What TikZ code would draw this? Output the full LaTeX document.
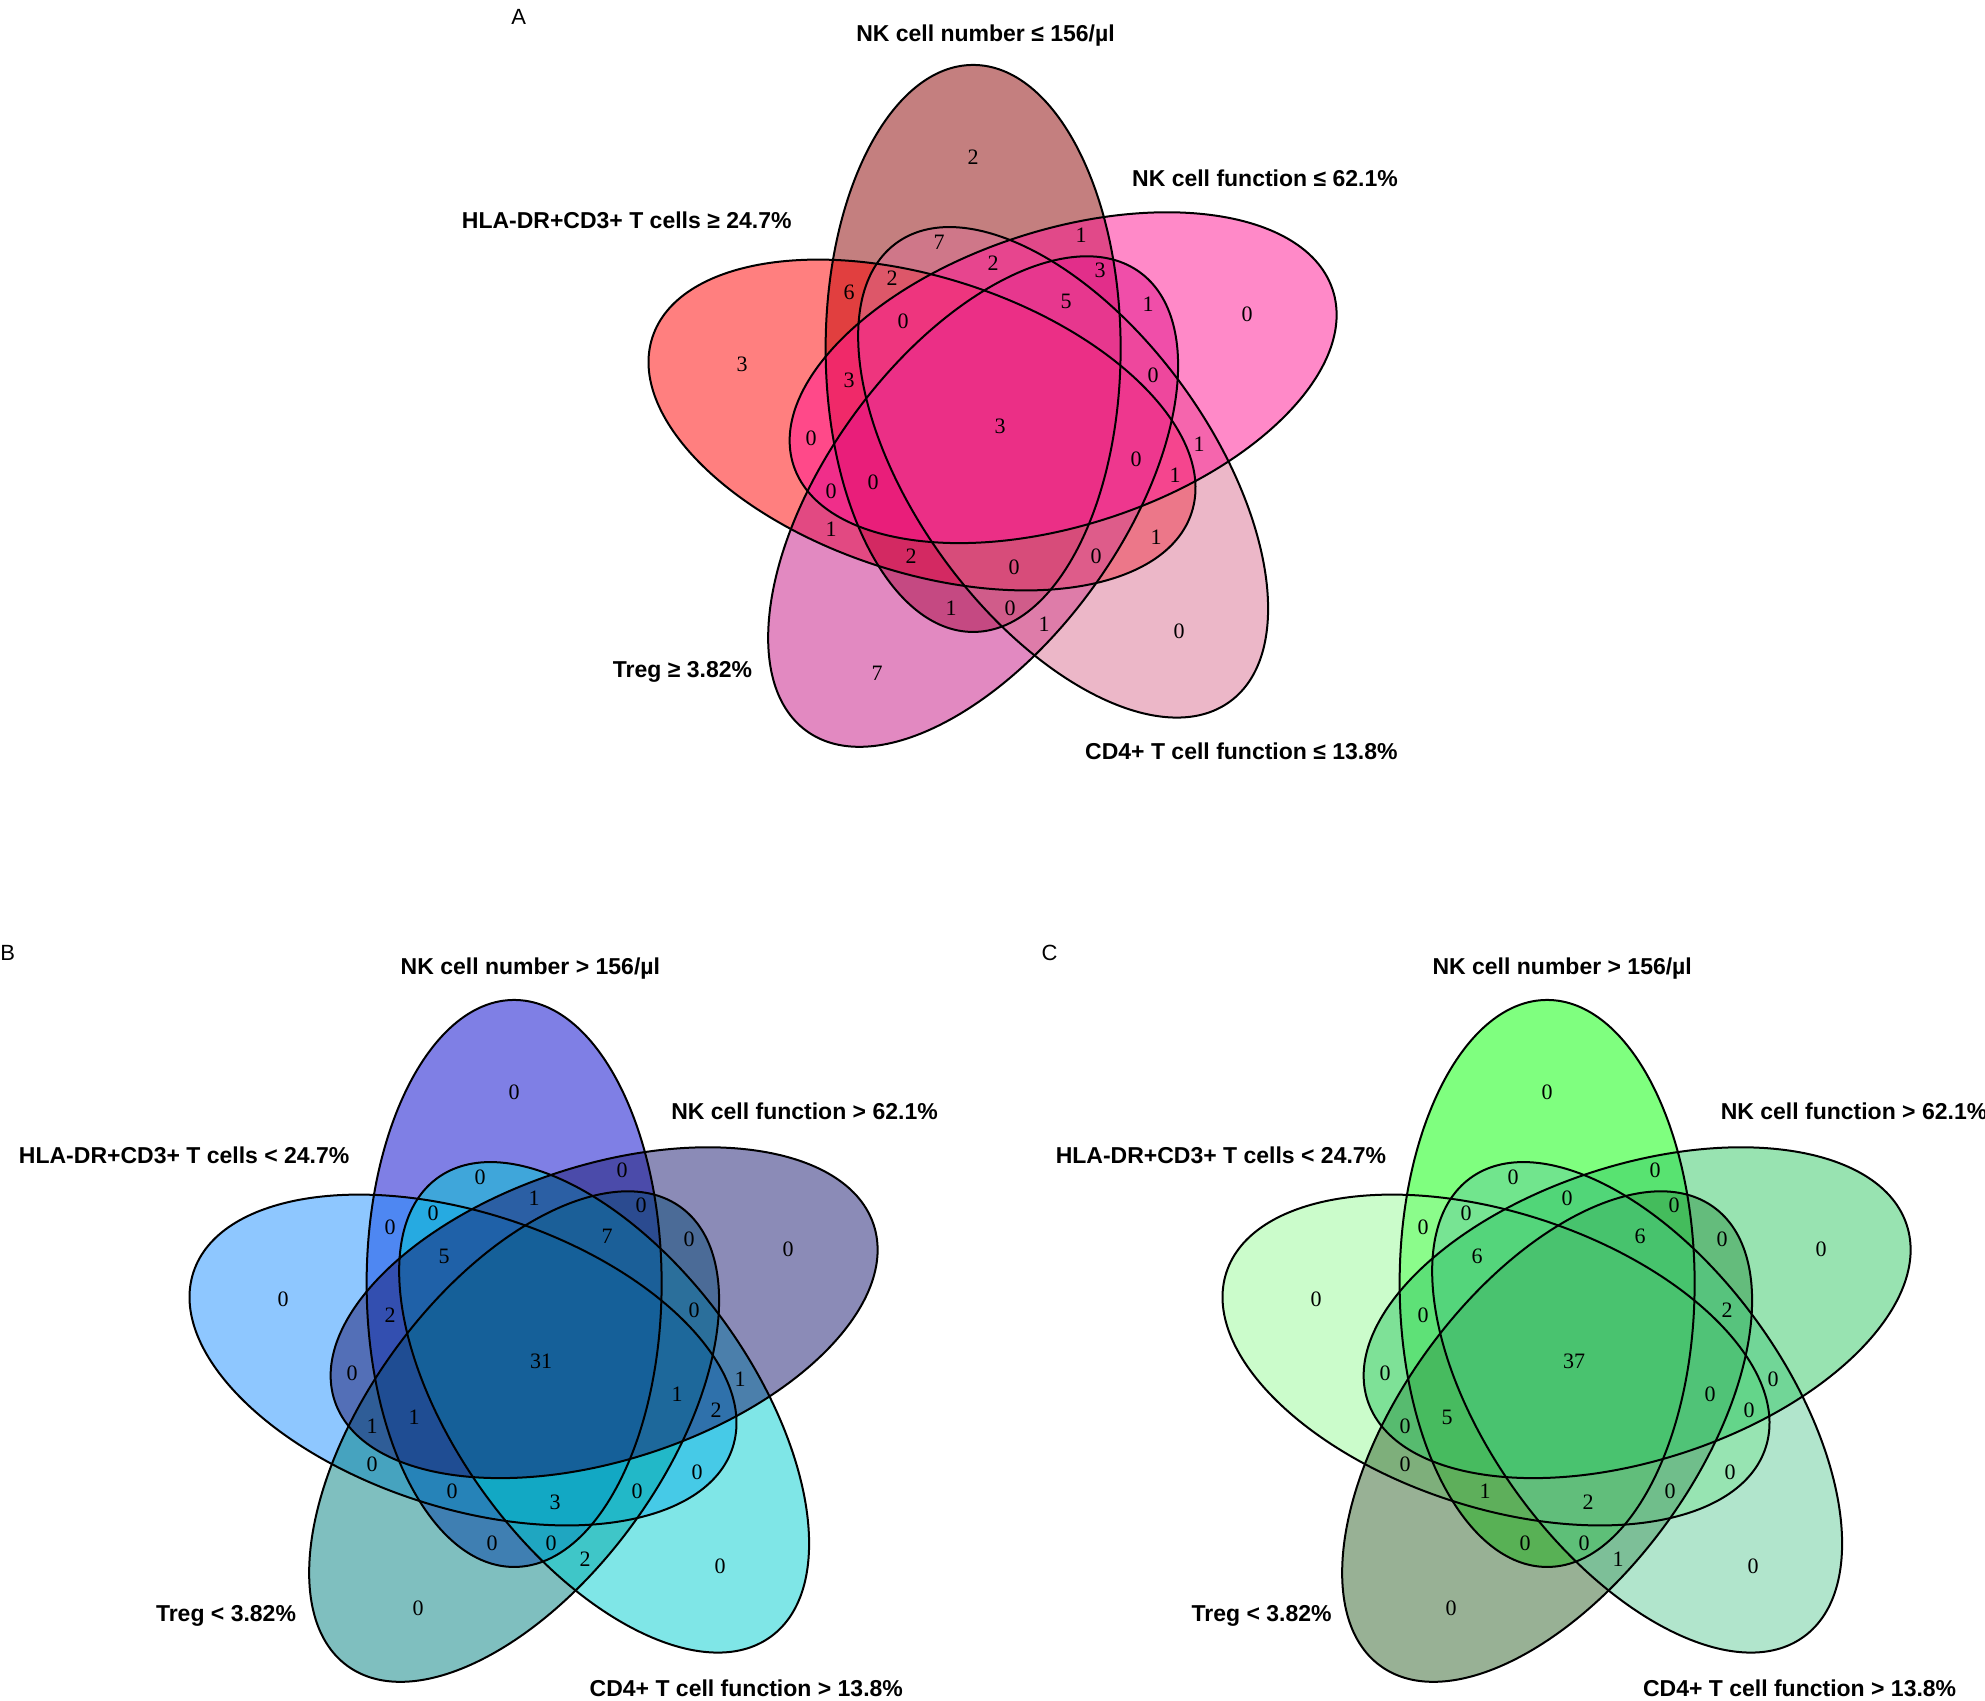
\documentclass[tikz,border=0pt]{standalone}
\usepackage{fontspec}
\newfontfamily\labfont{Liberation Sans}
\newfontfamily\numfont{Liberation Serif}
% panel A colours
\definecolor{Acol1}{RGB}{139,0,0}
\definecolor{Acol2}{RGB}{255,0,0}
\definecolor{Acol3}{RGB}{199,21,133}
\definecolor{Acol4}{RGB}{219,112,147}
\definecolor{Acol5}{RGB}{255,20,147}
% panel B colours
\definecolor{Bcol1}{RGB}{0,0,205}
\definecolor{Bcol2}{RGB}{30,144,255}
\definecolor{Bcol3}{RGB}{0,128,128}
\definecolor{Bcol4}{RGB}{0,206,209}
\definecolor{Bcol5}{RGB}{25,25,112}
% panel C colours
\definecolor{Ccol1}{RGB}{0,255,0}
\definecolor{Ccol2}{RGB}{152,251,152}
\definecolor{Ccol3}{RGB}{50,100,45}
\definecolor{Ccol4}{RGB}{100,205,155}
\definecolor{Ccol5}{RGB}{50,200,100}
\tikzset{
  num/.style={font=\numfont\fontsize{22}{22}\selectfont, inner sep=0pt},
  catlab/.style={font=\labfont\bfseries\fontsize{23}{23}\selectfont, inner sep=0pt, anchor=base},
  panlab/.style={font=\labfont\fontsize{22}{22}\selectfont, inner sep=0pt, anchor=base},
  outline/.style={draw=black, line width=2pt},
}
\def\numpos{-25/-268, 249/-111, -256/-61, -59/-183, -5/-162, 83/-190, -149/-133,
 -106/-147, 102/-155, -95/-104, 68/-124, 150/-121, -149/-45, 155/-50, 2/1,
 -187/13, 201/19, 138/34, 177/50, -167/66, -125/57, -167/104, 158/112,
 -87/131, 16/142, 98/131, -47/183, 12/183, 46/199, 181/206, -121/248}
% ellipse placement: position angle / axis angle / colour index / x nudge
\def\ellset{108/90/1/0, 180/162/2/4.5, 252/54/3/0, 324/126/4/0, 36/18/5/0}
\newcommand\vennpanel[3]{%
  \begin{scope}[shift={#2}]
    \foreach \pa/\th/\cc/\nx in \ellset {
      \path[fill=#1col\cc, fill opacity=0.5, xshift=\nx, shift={(-\pa:80.5)}, rotate=\th]
        (0,0) ellipse [x radius=283.5, y radius=147.5];
    }
    \foreach \pa/\th/\cc/\nx in \ellset {
      \draw[outline, xshift=\nx, shift={(-\pa:80.5)}, rotate=\th]
        (0,0) ellipse [x radius=283.5, y radius=147.5];
    }
    \foreach \x/\y [count=\i] in \numpos {
      \pgfmathtruncatemacro\val{{#3}[\i-1]}
      \node[num] (#1n\i) at (\x,\y) {\val};
    }
  \end{scope}}
\begin{document}
\begin{tikzpicture}[x=1pt,y=-1pt]
\clip (0,0) rectangle (1985,1700);
\fill[white] (0,0) rectangle (1985,1700);
\vennpanel{A}{(998,425)}{2,0,3,7,2,1,6,2,3,0,5,1,3,0,3,0,1,0,1,0,0,1,1,2,0,0,1,0,1,0,7}
\vennpanel{B}{(539,1360)}{0,0,0,0,1,0,0,0,0,5,7,0,2,0,31,0,1,1,2,1,1,0,0,0,3,0,0,0,2,0,0}
\vennpanel{C}{(1572,1360)}{0,0,0,0,0,0,0,0,0,6,6,0,0,2,37,0,0,0,0,0,5,0,0,1,2,0,0,0,1,0,0}
% panel A labels
\node[panlab] (labA) at (518.8,24) {A};
\node[catlab] (A1) at (985.5,41.7) {NK cell number ≤ 156/µl};
\node[catlab] (A5) at (1265,186) {NK cell function ≤ 62.1\%};
\node[catlab] (A2) at (626.7,228.6) {HLA-DR+CD3+ T cells ≥ 24.7\%};
\node[catlab] (A3) at (682.5,677) {Treg ≥ 3.82\%};
\node[catlab] (A4) at (1241.4,759.4) {CD4+ T cell function ≤ 13.8\%};
% panel B labels
\node[panlab] (labB) at (7.6,960) {B};
\node[catlab] (B1) at (530.4,974.3) {NK cell number > 156/µl};
\node[catlab] (B5) at (804.5,1119.6) {NK cell function > 62.1\%};
\node[catlab] (B2) at (184.2,1163) {HLA-DR+CD3+ T cells < 24.7\%};
\node[catlab] (B3) at (226,1621) {Treg < 3.82\%};
\node[catlab] (B4) at (746.3,1696) {CD4+ T cell function > 13.8\%};
% panel C labels
\node[panlab] (labC) at (1049.5,960) {C};
\node[catlab] (C1) at (1562.2,974.3) {NK cell number > 156/µl};
\node[catlab] (C5) at (1854,1119.6) {NK cell function > 62.1\%};
\node[catlab] (C2) at (1221,1163) {HLA-DR+CD3+ T cells < 24.7\%};
\node[catlab] (C3) at (1261.6,1621) {Treg < 3.82\%};
\node[catlab] (C4) at (1799.6,1696) {CD4+ T cell function > 13.8\%};
\end{tikzpicture}
\end{document}
